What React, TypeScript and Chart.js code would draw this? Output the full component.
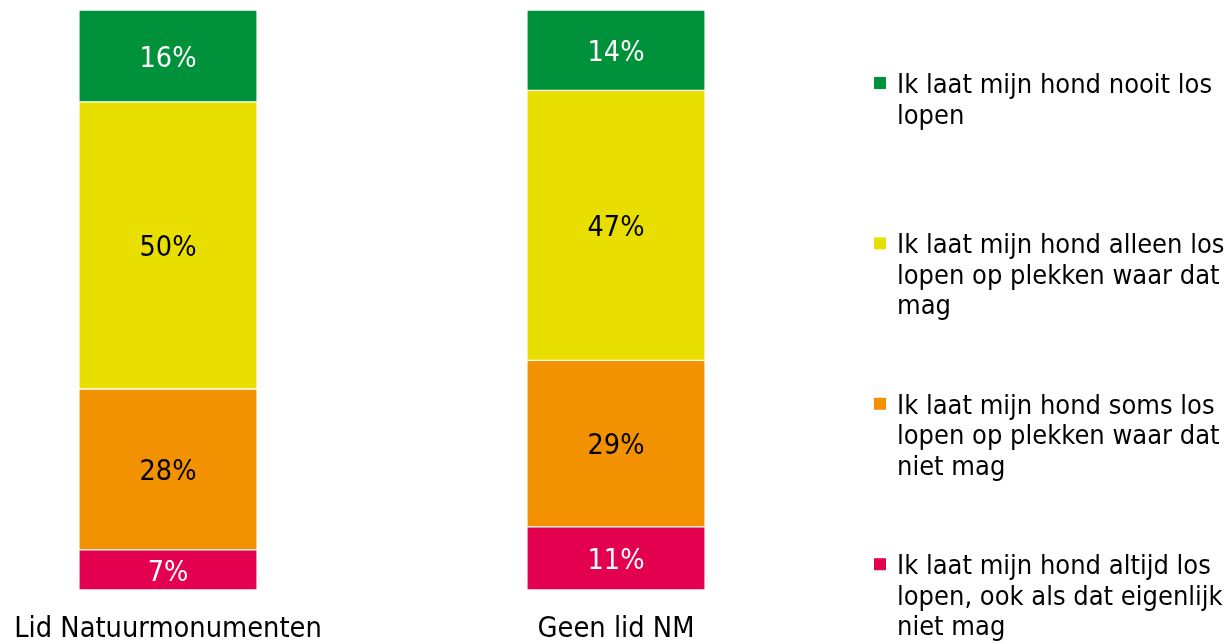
import { useEffect, useRef } from "react";
import { Chart, registerables } from "chart.js";

Chart.register(...registerables);

// ---- data ----
const categories = ["Lid Natuurmonumenten", "Geen lid NM"];
const nooitLos = [16, 14];
const alleenWaarMag = [50, 47];
const somsWaarNietMag = [28, 29];
const altijdLos = [7, 11];

const legendNooit = ["Ik laat mijn hond nooit los", "lopen"];
const legendAlleen = ["Ik laat mijn hond alleen los", "lopen op plekken waar dat", "mag"];
const legendSoms = ["Ik laat mijn hond soms los", "lopen op plekken waar dat", "niet mag"];
const legendAltijd = ["Ik laat mijn hond altijd los", "lopen, ook als dat eigenlijk", "niet mag"];

const FONT = "'DejaVu Sans Condensed', 'DejaVu Sans', Verdana, sans-serif";

const valueLabelPlugin = {
  id: "valueLabels",
  afterDatasetsDraw(chart: any) {
    const ctx = chart.ctx;
    ctx.save();
    ctx.font = `28.5px ${FONT}`;
    ctx.textAlign = "center";
    ctx.textBaseline = "middle";
    chart.data.datasets.forEach((ds: any, i: number) => {
      const meta = chart.getDatasetMeta(i);
      meta.data.forEach((el: any, j: number) => {
        const p = el.getProps(["x", "y", "base"], true);
        ctx.fillStyle = ds.labelColor;
        ctx.fillText(`${ds.data[j]}%`, p.x, (p.y + p.base) / 2 + 3.5);
      });
    });
    ctx.restore();
  },
};

const sideLegendPlugin = {
  id: "sideLegend",
  afterDraw(chart: any, _args: any, opts: any) {
    const ctx = chart.ctx;
    ctx.save();
    ctx.font = `27px ${FONT}`;
    ctx.textAlign = "left";
    ctx.textBaseline = "alphabetic";
    const items = [...chart.data.datasets].reverse();
    items.forEach((ds: any, k: number) => {
      const b = opts.top + k * opts.spacing;
      ctx.fillStyle = ds.backgroundColor;
      ctx.fillRect(opts.x, b - 16, 12, 12);
      ctx.fillStyle = "#000";
      ds.legendLines.forEach((line: string, li: number) => {
        ctx.fillText(line, opts.x + 23, b + li * opts.lineHeight);
      });
    });
    ctx.restore();
  },
};

export default function App() {
  const ref = useRef<HTMLCanvasElement | null>(null);

  useEffect(() => {
    if (!ref.current) return;
    const common = {
      borderColor: "#ffffff",
      borderWidth: { top: 1, bottom: 1, left: 0, right: 0 },
      borderSkipped: false,
      barThickness: 177,
      clip: false,
    };
    const chart = new Chart(ref.current, {
      type: "bar",
      data: {
        labels: categories,
        datasets: [
          { ...common, label: "altijd", data: altijdLos, backgroundColor: "#E2004F", labelColor: "#ffffff", legendLines: legendAltijd } as any,
          { ...common, label: "soms", data: somsWaarNietMag, backgroundColor: "#F39200", labelColor: "#000000", legendLines: legendSoms } as any,
          { ...common, label: "alleen", data: alleenWaarMag, backgroundColor: "#E8DF00", labelColor: "#000000", legendLines: legendAlleen } as any,
          { ...common, label: "nooit", data: nooitLos, backgroundColor: "#00923A", labelColor: "#ffffff", legendLines: legendNooit } as any,
        ],
      },
      options: {
        animation: false,
        responsive: true,
        maintainAspectRatio: false,
        layout: { padding: { left: 168, right: 612, top: 10, bottom: 0 } },
        plugins: {
          legend: { display: false },
          tooltip: { enabled: false },
          sideLegend: { x: 874, top: 93, spacing: 160.4, lineHeight: 30.5 },
        } as any,
        scales: {
          x: {
            type: "category",
            stacked: true,
            offset: false,
            grid: { display: false, drawTicks: false },
            border: { display: false },
            ticks: {
              color: "#000",
              font: { family: FONT, size: 28.7, lineHeight: "80px" as any },
              padding: 0,
              maxRotation: 0,
              autoSkip: false,
            },
          },
          y: {
            stacked: true,
            display: false,
            min: 0,
            max: 101,
          },
        },
      },
      plugins: [valueLabelPlugin, sideLegendPlugin],
    });
    return () => chart.destroy();
  }, []);

  return (
    <div style={{ position: "fixed", left: 0, top: 0, width: 1228, height: 670, background: "#fff" }}>
      <canvas ref={ref} />
    </div>
  );
}
